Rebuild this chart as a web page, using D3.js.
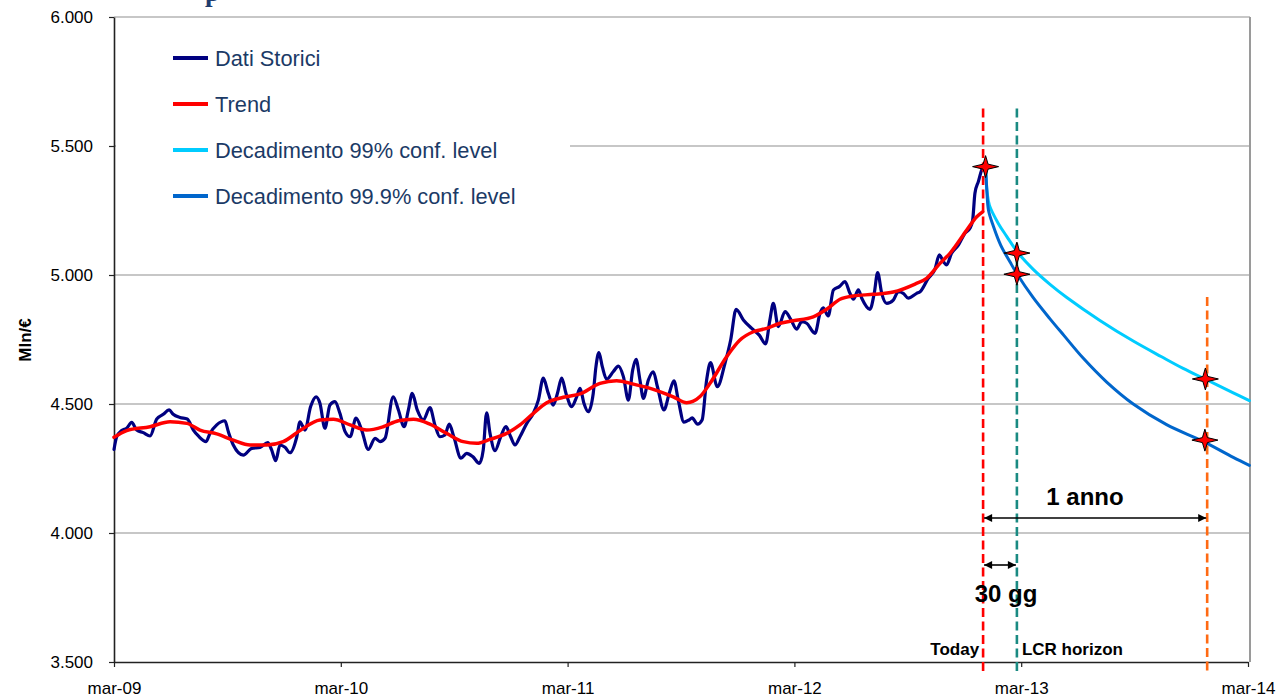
<!DOCTYPE html>
<html><head><meta charset="utf-8">
<script src="https://cdn.jsdelivr.net/npm/d3@7"></script>
<style>
body{margin:0;background:#fff;}
svg{display:block;font-family:"Liberation Sans",Arial,sans-serif;}
</style>
</head><body>
<svg id="chart" width="1276" height="697"></svg>
<script>
// ---------- DATA ----------
const xTickLabels = ["mar-09","mar-10","mar-11","mar-12","mar-13","mar-14"];
const xTickValues = [0,1,2,3,4,5]; // years since mar-09
const yTicks = [3500,4000,4500,5000,5500,6000];

// Dati Storici (time in years since mar-09, value in Mln/€)
const histT = [0,0.012,0.034,0.056,0.078,0.100,0.129,0.159,0.188,0.217,
0.243,0.261,0.291,0.323,0.350,0.372,0.406,0.423,0.453,0.489,
0.504,0.526,0.570,0.607,0.644,0.678,0.695,0.713,0.732,0.754,
0.776,0.806,0.820,0.842,0.867,0.891,0.908,0.930,0.952,0.974,
0.996,1.019,1.041,1.067,1.092,1.121,1.151,1.173,1.195,1.231,
1.254,1.279,1.298,1.315,1.337,1.364,1.393,1.415,1.437,1.459,
1.478,1.499,1.530,1.555,1.582,1.611,1.628,1.643,1.658,1.680,
1.705,1.728,1.749,1.768,1.790,1.820,1.849,1.871,1.893,1.915,
1.937,1.955,1.974,1.993,2.018,2.040,2.055,2.072,2.091,2.113,
2.125,2.138,2.153,2.172,2.201,2.224,2.246,2.268,2.287,2.302,
2.319,2.334,2.356,2.378,2.396,2.425,2.448,2.469,2.488,2.513,
2.535,2.549,2.573,2.593,2.613,2.630,2.660,2.694,2.719,2.743,
2.775,2.812,2.845,2.873,2.892,2.907,2.929,2.959,2.984,3.010,
3.032,3.054,3.091,3.113,3.127,3.149,3.172,3.198,3.223,3.245,
3.260,3.282,3.297,3.333,3.352,3.367,3.385,3.407,3.436,3.458,
3.480,3.502,3.539,3.554,3.590,3.620,3.639,3.657,3.671,3.693,
3.723,3.752,3.774,3.786,3.796,3.811,3.830,3.843];
const histV = [4324,4373,4397,4406,4429,4399,4389,4376,4441,4460,
4477,4460,4448,4442,4399,4376,4354,4386,4419,4435,
4393,4341,4302,4328,4332,4350,4322,4280,4341,4332,
4311,4373,4431,4399,4490,4528,4503,4406,4496,4509,
4464,4393,4373,4445,4399,4324,4367,4354,4367,4528,
4477,4412,4477,4541,4477,4438,4486,4419,4373,4380,
4422,4371,4290,4309,4296,4270,4322,4466,4386,4319,
4373,4412,4373,4341,4373,4425,4464,4515,4600,4541,
4496,4541,4600,4541,4490,4528,4561,4503,4470,4541,
4645,4699,4645,4596,4625,4647,4606,4515,4632,4673,
4593,4522,4593,4625,4567,4477,4541,4590,4515,4430,
4438,4446,4422,4438,4593,4660,4567,4658,4748,4867,
4826,4793,4767,4733,4826,4890,4800,4858,4828,4790,
4819,4813,4774,4852,4873,4841,4942,4955,4974,4929,
4906,4942,4910,4867,4929,5009,4929,4890,4903,4935,
4929,4910,4929,4935,4987,5023,5078,5052,5039,5084,
5116,5162,5181,5213,5317,5362,5414,5420];

// Trend
const trendT = [0,0.056,0.159,0.247,0.321,0.379,0.453,0.526,0.600,0.673,
0.746,0.820,0.908,0.967,1.041,1.114,1.187,1.254,1.320,1.393,
1.467,1.540,1.599,1.658,1.731,1.790,1.849,1.908,1.981,2.055,
2.143,2.216,2.290,2.378,2.466,2.525,2.584,2.628,2.701,2.760,
2.819,2.878,2.937,2.995,3.083,3.142,3.201,3.260,3.348,3.436,
3.532,3.583,3.642,3.686,3.760,3.804,3.830];
const trendV = [4371,4397,4412,4431,4425,4399,4384,4360,4341,4341,
4354,4397,4438,4441,4419,4399,4412,4435,4441,4422,
4386,4354,4348,4363,4386,4419,4464,4505,4526,4539,
4580,4590,4577,4557,4528,4505,4529,4580,4683,4748,
4780,4793,4813,4823,4838,4867,4906,4919,4925,4934,
4965,4987,5045,5084,5174,5226,5245];

// Decadimento 99% conf. level
const d99T = [3.843,3.850,3.860,3.899,3.936,3.987,4.053,4.127,4.201,4.347,4.494,4.619,4.714,4.817,4.935,5.006];
const d99V = [5420,5320,5270,5200,5150,5085,5022,4964,4913,4824,4744,4683,4638,4594,4543,4513];

// Decadimento 99.9% conf. level
const d999T = [3.843,3.849,3.856,3.877,3.910,3.951,3.981,4.053,4.127,4.189,4.274,4.377,4.494,4.641,4.802,4.935,5.006];
const d999V = [5420,5320,5250,5190,5115,5050,5005,4912,4830,4765,4677,4585,4500,4420,4355,4293,4262];

// Key points (stars)
const starT = [3.843,3.981,3.981,4.812,4.810];
const starV = [5420,5085,5003,4597,4360];

// Vertical event lines: Today, LCR horizon, 1 anno
const eventT = [3.832,3.981,4.820];
const eventTopV = [5645,5645,4915];
const eventLabels = ["Today","LCR horizon",""];

// Spans
const spanLabels = ["30 gg","1 anno"];

const legendNames = ["Dati Storici","Trend","Decadimento 99% conf. level","Decadimento 99.9% conf. level"];
const yLabel = "Mln/€";
const titleFragment = "p";

// ---------- DRAW ----------
const svg = d3.select("#chart");
const x = d3.scaleLinear().domain([0,5]).range([114,1248]);
const y = d3.scaleLinear().domain([3500,6000]).range([662,17]);
const colors = ["#000080","#ff0000","#00ccff","#0066cc"];
const eventColors = ["#ff0000","#1a8a82","#ff6a13"];
const it = d3.formatLocale({decimal:",",thousands:".",grouping:[3],currency:["€",""]});
const fmt = it.format(",.0f");

// title fragment (cut off at the top, as in the source slide)
svg.append("text").attr("x",205).attr("y",0.5)
  .attr("font-family","'Liberation Serif','DejaVu Serif',serif")
  .attr("font-size",27).attr("font-weight","bold").attr("fill","#1f3d6e").text(titleFragment);

// gridlines
svg.append("g").selectAll("line").data(yTicks.filter(d=>d>3500)).join("line")
  .attr("x1",114).attr("x2",1250)
  .attr("y1",d=>y(d)).attr("y2",d=>y(d))
  .attr("stroke","#8f8f8f").attr("stroke-width",1.2);

// right border
svg.append("line").attr("x1",1250).attr("x2",1250).attr("y1",y(6000)).attr("y2",y(3500))
  .attr("stroke","#9a9a9a").attr("stroke-width",2);

// legend background
svg.append("rect").attr("x",116).attr("y",24).attr("width",454).attr("height",200).attr("fill","#fff");

// axes
const yAxis = d3.axisLeft(y).tickValues(yTicks).tickSize(5).tickSizeOuter(0).tickPadding(16).tickFormat(fmt);
const gy = svg.append("g").attr("transform","translate(114,0)").call(yAxis);
gy.selectAll("text").attr("font-size",17).attr("font-family","'Liberation Sans',Arial,sans-serif").attr("fill","#000");
gy.selectAll("line").attr("stroke","#222").attr("stroke-width",1.2);
gy.select(".domain").attr("stroke","#222").attr("stroke-width",1.6);

const xAxis = d3.axisBottom(x).tickValues(xTickValues).tickSize(5).tickSizeOuter(0).tickPadding(15)
  .tickFormat((d,i)=>xTickLabels[i]);
const gx = svg.append("g").attr("transform","translate(0,662)").call(xAxis);
gx.selectAll("text").attr("font-size",17).attr("font-family","'Liberation Sans',Arial,sans-serif").attr("fill","#000");
gx.selectAll("line").attr("stroke","#222").attr("stroke-width",1.2);
gx.select(".domain").attr("stroke","#222").attr("stroke-width",1.6);

// y label
svg.append("text").attr("transform","translate(31,340) rotate(-90)")
  .attr("text-anchor","middle").attr("font-size",17).attr("font-weight","bold").text(yLabel);

// lines
const lineMono = d3.line().x(d=>x(d[0])).y(d=>y(d[1])).curve(d3.curveMonotoneX);
const lineSmooth = d3.line().x(d=>x(d[0])).y(d=>y(d[1])).curve(d3.curveCatmullRom.alpha(0.5));
const zip = (a,b)=>a.map((t,i)=>[t,b[i]]);
const series = [
  {t:histT,v:histV,c:colors[0],w:3.2,gen:lineMono},
  {t:trendT,v:trendV,c:colors[1],w:3.5,gen:lineMono},
  {t:d99T,v:d99V,c:colors[2],w:3,gen:lineSmooth},
  {t:d999T,v:d999V,c:colors[3],w:3,gen:lineSmooth}
];
svg.append("g").selectAll("path").data(series).join("path")
  .attr("d",s=>s.gen(zip(s.t,s.v)))
  .attr("fill","none").attr("stroke",s=>s.c).attr("stroke-width",s=>s.w)
  .attr("stroke-linejoin","round").attr("stroke-linecap","round");

// event dashed lines
svg.append("g").selectAll("line").data(eventT).join("line")
  .attr("x1",d=>x(d)).attr("x2",d=>x(d))
  .attr("y1",(d,i)=>y(eventTopV[i])).attr("y2",671)
  .attr("stroke",(d,i)=>eventColors[i]).attr("stroke-width",2.6)
  .attr("stroke-dasharray","9,4.5");

// event labels
svg.append("text").attr("x",x(eventT[0])-4).attr("y",655).attr("text-anchor","end")
  .attr("font-size",17).attr("font-weight","bold").text(eventLabels[0]);
svg.append("text").attr("x",x(eventT[1])+5).attr("y",655).attr("text-anchor","start")
  .attr("font-size",17).attr("font-weight","bold").text(eventLabels[1]);

// arrows
const defs = svg.append("defs");
defs.append("marker").attr("id","ah").attr("viewBox","0 0 10 10").attr("refX",10).attr("refY",5)
  .attr("markerWidth",10).attr("markerHeight",8).attr("markerUnits","userSpaceOnUse")
  .attr("orient","auto-start-reverse")
  .append("path").attr("d","M0,0 L10,5 L0,10 Z").attr("fill","#000");

const spans = [
  {x1:eventT[0],x2:eventT[1],yy:565,label:spanLabels[0],lx:1006,ly:602},
  {x1:eventT[0],x2:eventT[2],yy:518,label:spanLabels[1],lx:1085,ly:505}
];
spans.forEach(s=>{
  svg.append("line").attr("x1",x(s.x1)+1).attr("x2",x(s.x2)-1).attr("y1",s.yy).attr("y2",s.yy)
    .attr("stroke","#000").attr("stroke-width",1.6)
    .attr("marker-start","url(#ah)").attr("marker-end","url(#ah)");
  svg.append("text").attr("x",s.lx).attr("y",s.ly).attr("text-anchor","middle")
    .attr("font-size",24).attr("font-weight","bold").text(s.label);
});

// stars
const starPath = "M-13,0 L-2.5,-2.5 L0,-11 L2.5,-2.5 L13,0 L2.5,2.5 L0,11 L-2.5,2.5 Z";
svg.append("g").selectAll("path").data(starT).join("path")
  .attr("transform",(d,i)=>`translate(${x(d)},${y(starV[i])})`)
  .attr("d",starPath).attr("fill","#ff0000").attr("stroke","#000").attr("stroke-width",1);

// legend
const lg = svg.append("g");
legendNames.forEach((n,i)=>{
  const yy = 58 + i*46;
  lg.append("line").attr("x1",173).attr("x2",208).attr("y1",yy).attr("y2",yy)
    .attr("stroke",colors[i]).attr("stroke-width",4);
  lg.append("text").attr("x",215).attr("y",yy+8).attr("font-size",21.8).attr("fill","#1b3a66").text(n);
});
</script>
</body></html>
